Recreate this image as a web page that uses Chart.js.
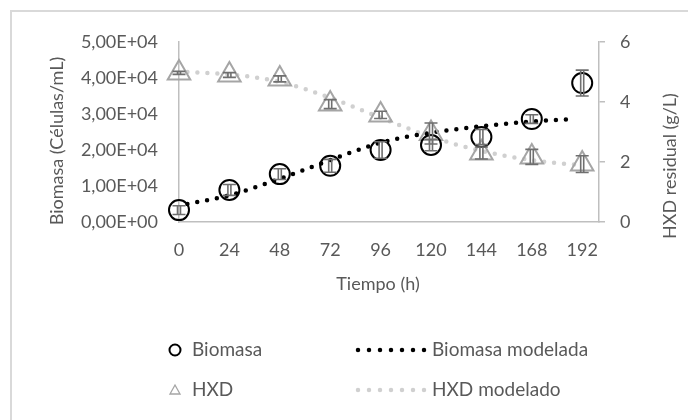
<!DOCTYPE html>
<html>
<head>
<meta charset="utf-8">
<script src="https://cdn.jsdelivr.net/npm/chart.js@4.4.1/dist/chart.umd.min.js"></script>
<style>
  body { margin: 0; width: 688px; height: 420px; overflow: hidden; background: #fff; position: relative; }
  #frame { position: absolute; left: 10px; top: 10px; width: 700px; height: 430px; border: 2px solid #d9d9d9; }
  #wrap { position: absolute; left: 0; top: 0; width: 688px; height: 420px; }
</style>
</head>
<body>
<div id="frame"></div>
<div id="wrap"><canvas id="myChart"></canvas></div>
<script>
// Data
var timeTicks = [0, 24, 48, 72, 96, 120, 144, 168, 192];
var sampleTime = [0, 24, 48, 72, 96, 120, 144, 168, 192];
var biomasa = [3300, 8900, 13300, 15600, 20000, 21400, 23600, 28600, 38600];
var biomasaErr = [1200, 1500, 1500, 1800, 2300, 1600, 2100, 1200, 3600];
var hxd = [4.97, 4.9, 4.77, 3.93, 3.57, 2.95, 2.3, 2.17, 1.93];
var hxdErr = [0.05, 0.08, 0.1, 0.15, 0.12, 0.35, 0.2, 0.25, 0.28];
var modelTime = [4, 24, 48, 72, 96, 120, 144, 168, 188];
var biomasaModel = [5000, 7400, 12000, 17200, 22000, 24800, 26600, 27900, 28600];
var hxdModelTime = [4, 24, 48, 72, 96, 120, 144, 168, 190];
var hxdModel = [5.0, 4.92, 4.67, 4.14, 3.48, 2.84, 2.37, 2.06, 1.9];

var textColor = "#595959";
var fontFamily = "Lato";

function pts(xs, ys) {
  var out = [];
  for (var i = 0; i < xs.length; i++) out.push({ x: xs[i], y: ys[i] });
  return out;
}

// 50000 -> "5,00E+04"
function fmtSci(v) {
  if (v === 0) return "0,00E+00";
  var e = Math.floor(Math.log10(v));
  var m = v / Math.pow(10, e);
  return m.toFixed(2).replace(".", ",") + "E+" + (e < 10 ? "0" + e : e);
}

function drawErr(ctx, xs, ys, xv, yv, ev) {
  for (var i = 0; i < xv.length; i++) {
    var px = xs.getPixelForValue(xv[i]);
    var top = ys.getPixelForValue(yv[i] + ev[i]);
    var bot = ys.getPixelForValue(yv[i] - ev[i]);
    ctx.lineWidth = 1.6;
    ctx.beginPath();
    ctx.moveTo(px - 1.5, top); ctx.lineTo(px - 1.5, bot);
    ctx.moveTo(px + 1.5, top); ctx.lineTo(px + 1.5, bot);
    ctx.moveTo(px - 6.5, top); ctx.lineTo(px + 6.5, top);
    ctx.moveTo(px - 6.5, bot); ctx.lineTo(px + 6.5, bot);
    ctx.stroke();
  }
}

function dots(ctx, x0, x1, y, color) {
  ctx.save();
  ctx.strokeStyle = color;
  ctx.lineWidth = 4.5;
  ctx.lineCap = "round";
  ctx.setLineDash([0, 11]);
  ctx.beginPath();
  ctx.moveTo(x0, y); ctx.lineTo(x1, y);
  ctx.stroke();
  ctx.restore();
}

var extras = {
  id: "extras",
  afterDatasetsDraw: function (chart) {
    var ctx = chart.ctx;
    ctx.save();
    ctx.strokeStyle = "#6f6f6f";
    drawErr(ctx, chart.scales.x, chart.scales.y, sampleTime, biomasa, biomasaErr);
    drawErr(ctx, chart.scales.x, chart.scales.y1, sampleTime, hxd, hxdErr);
    ctx.restore();
  },
  afterDraw: function (chart) {
    var ctx = chart.ctx;
    ctx.save();
    ctx.fillStyle = textColor;
    ctx.font = "18px " + fontFamily;
    ctx.textBaseline = "middle";
    ctx.textAlign = "center";
    ctx.fillText("Tiempo (h)", 378, 284);
    ctx.save();
    ctx.translate(57, 141);
    ctx.rotate(-Math.PI / 2);
    ctx.fillText("Biomasa (Células/mL)", 0, 0);
    ctx.restore();
    ctx.save();
    ctx.translate(670, 166);
    ctx.rotate(-Math.PI / 2);
    ctx.fillText("HXD residual (g/L)", 0, 0);
    ctx.restore();

    // legend
    ctx.font = "19px " + fontFamily;
    ctx.textAlign = "left";
    ctx.fillText("Biomasa", 192, 350);
    ctx.fillText("Biomasa modelada", 432, 350);
    ctx.fillText("HXD", 192, 390);
    ctx.fillText("HXD modelado", 432, 390);
    ctx.lineWidth = 2;
    ctx.strokeStyle = "#000";
    ctx.beginPath();
    ctx.arc(175, 350, 5.5, 0, Math.PI * 2);
    ctx.stroke();
    ctx.lineWidth = 1.3;
    ctx.strokeStyle = "#a5a5a5";
    ctx.beginPath();
    ctx.moveTo(175, 385); ctx.lineTo(180, 394); ctx.lineTo(170, 394); ctx.closePath();
    ctx.stroke();
    dots(ctx, 358, 426, 350, "#000");
    dots(ctx, 358, 426, 390, "#d0d0d0");
    ctx.restore();
  }
};

var axisGrid = { display: true, drawOnChartArea: false, drawTicks: false };
var axisBorder = { color: "#bfbfbf", width: 1.5 };
var tickFont = { family: fontFamily, size: 18 };

var ctx = document.getElementById("myChart").getContext("2d");
var myChart = new Chart(ctx, {
  type: "line",
  data: {
    datasets: [
      {
        label: "Biomasa",
        data: pts(sampleTime, biomasa),
        yAxisID: "y",
        showLine: false,
        clip: false,
        pointStyle: "circle",
        pointRadius: 10,
        pointBorderWidth: 2,
        borderColor: "#000",
        pointBorderColor: "#000",
        pointBackgroundColor: "rgba(0,0,0,0)",
        order: 1,
      },
      {
        label: "HXD",
        data: pts(sampleTime, hxd),
        yAxisID: "y1",
        showLine: false,
        clip: false,
        pointStyle: "triangle",
        pointRadius: 13,
        pointBorderWidth: 2,
        borderColor: "#a5a5a5",
        pointBorderColor: "#a5a5a5",
        pointBackgroundColor: "rgba(0,0,0,0)",
        order: 2,
      },
      {
        label: "Biomasa modelada",
        data: pts(modelTime, biomasaModel),
        yAxisID: "y",
        borderColor: "#000",
        borderWidth: 4.5,
        borderDash: [0, 10],
        borderCapStyle: "round",
        pointRadius: 0,
        cubicInterpolationMode: "monotone",
        order: 3,
      },
      {
        label: "HXD modelado",
        data: pts(hxdModelTime, hxdModel),
        yAxisID: "y1",
        borderColor: "#d0d0d0",
        borderWidth: 4.5,
        borderDash: [0, 10],
        borderCapStyle: "round",
        pointRadius: 0,
        cubicInterpolationMode: "monotone",
        order: 4,
      },
    ],
  },
  options: {
    responsive: true,
    maintainAspectRatio: false,
    animation: false,
    layout: { padding: { top: 42, bottom: 120, left: 0, right: 0 } },
    plugins: { legend: { display: false }, tooltip: { enabled: false } },
    scales: {
      x: {
        type: "linear",
        min: 0,
        max: 200,
        afterBuildTicks: function (s) {
          s.ticks = timeTicks.map(function (v) { return { value: v }; });
        },
        afterFit: function (s) { s.height = 78; },
        grid: axisGrid,
        border: axisBorder,
        ticks: { color: textColor, font: tickFont, padding: 17, maxRotation: 0, autoSkip: false },
      },
      y: {
        position: "left",
        min: 0,
        max: 50000,
        afterFit: function (s) { s.width = 179; },
        grid: axisGrid,
        border: axisBorder,
        ticks: { stepSize: 10000, callback: fmtSci, color: textColor, font: tickFont, padding: 21 },
      },
      y1: {
        position: "right",
        min: 0,
        max: 6,
        afterFit: function (s) { s.width = 89; },
        grid: { display: true, drawOnChartArea: false, drawTicks: true, tickLength: 6, color: "#bfbfbf", lineWidth: 1.5 },
        border: axisBorder,
        ticks: { stepSize: 2, color: textColor, font: tickFont, padding: 15 },
      },
    },
  },
  plugins: [extras],
});
</script>
</body>
</html>
